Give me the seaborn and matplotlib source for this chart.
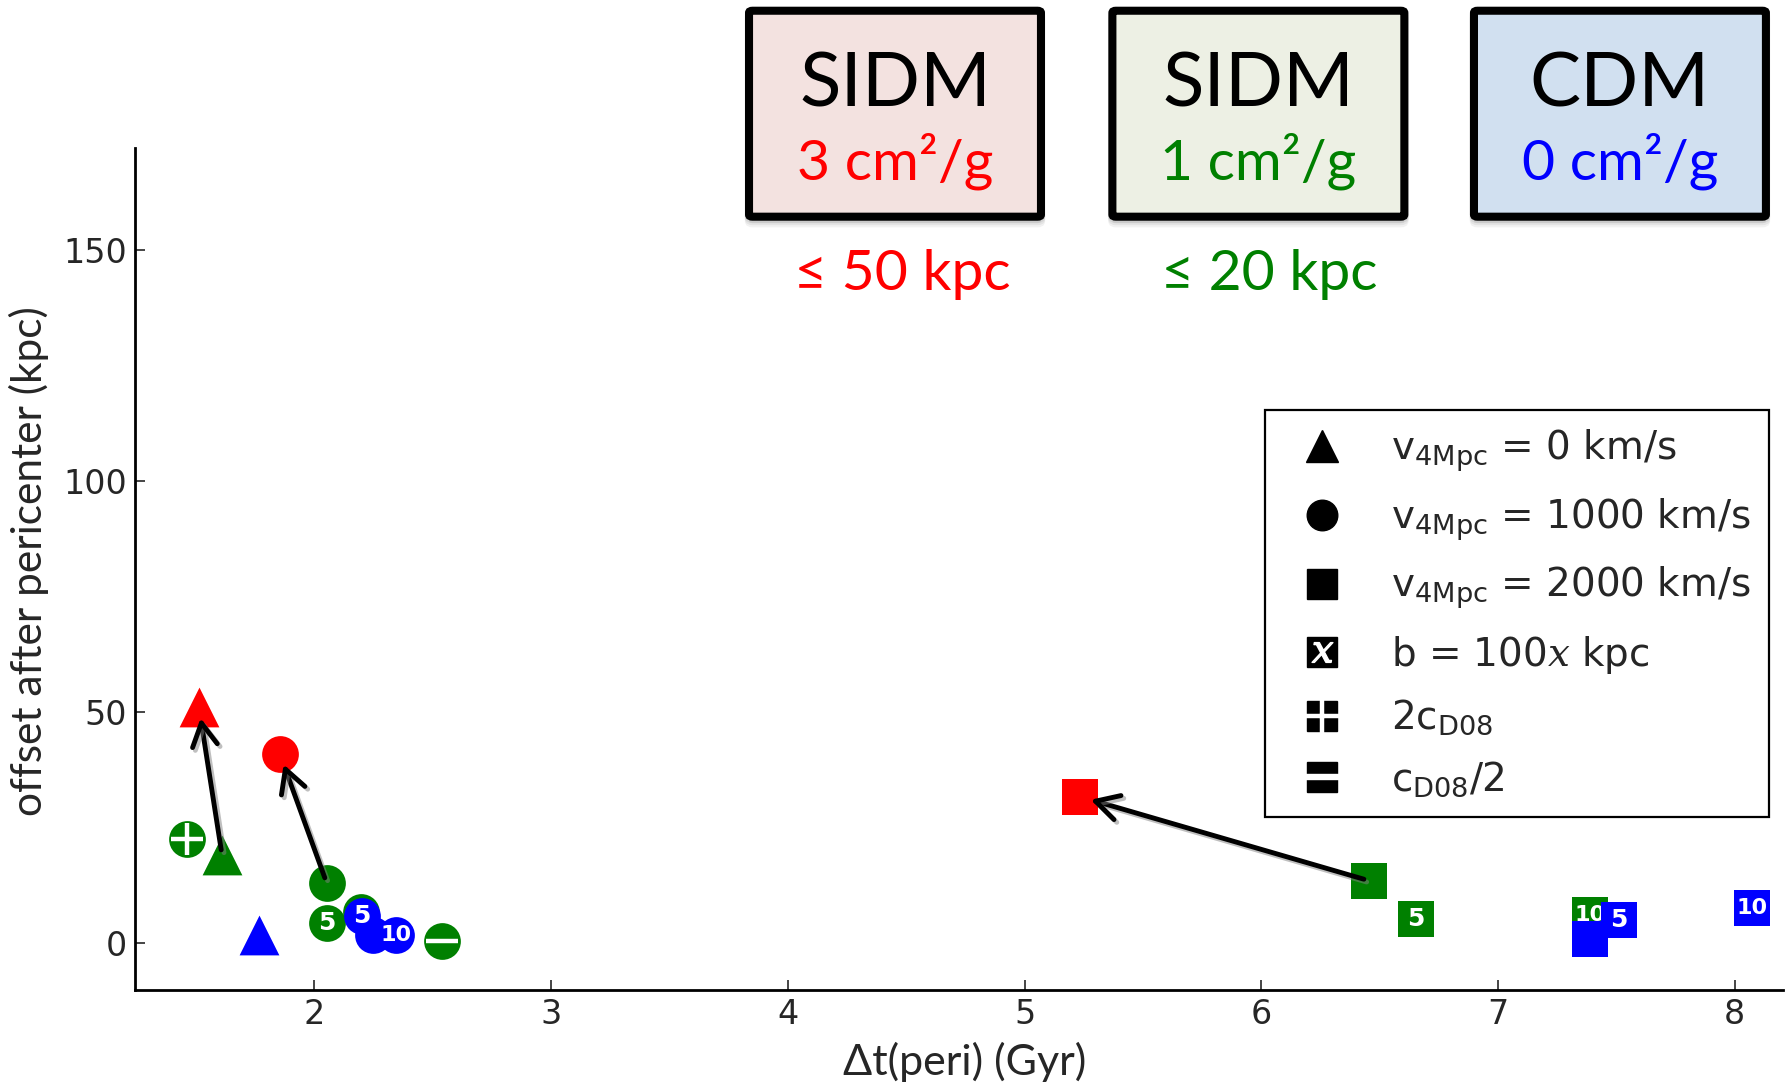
import matplotlib
matplotlib.use("Agg")
import matplotlib.pyplot as plt
import seaborn as sns
import pandas as pd
from matplotlib.lines import Line2D
from matplotlib.patches import FancyBboxPatch
import matplotlib.patheffects as pe

# ---- data -------------------------------------------------------------
dt_peri = [1.61, 1.463, 2.052, 2.052, 2.198, 2.54, 6.456, 6.654, 7.389,
           1.766, 2.248, 2.199, 2.343, 7.389, 7.512, 8.073,
           1.512, 1.854, 5.234]
offset = [19.0, 22.5, 13.0, 4.3, 6.8, 0.55, 13.5, 5.2, 6.1,
          1.7, 1.8, 5.95, 1.85, 0.9, 4.9, 7.6,
          51.1, 40.95, 31.7]
sigma = [1, 1, 1, 1, 1, 1, 1, 1, 1,
         0, 0, 0, 0, 0, 0, 0,
         3, 3, 3]
v_4mpc = [0, 1000, 1000, 1000, 1000, 1000, 2000, 2000, 2000,
          0, 1000, 1000, 1000, 2000, 2000, 2000,
          0, 1000, 2000]
variant = ["", "+", "", "5", "", "-", "", "5", "10",
           "", "", "5", "10", "", "5", "10",
           "", "", ""]
# arrows: (from index, to index) -- 1 cm^2/g run to the matching 3 cm^2/g run
arrow_pairs = [(0, 16), (2, 17), (6, 18)]

y_ticks = [0, 50, 100, 150]
x_ticks = [2, 3, 4, 5, 6, 7, 8]

df = pd.DataFrame({"t_peri": dt_peri, "offset": offset, "sigma": sigma,
                   "v": v_4mpc, "variant": variant})

colors = {3: "#FF0000", 1: "#008000", 0: "#0000FF"}
markers = {0: "^", 1000: "o", 2000: "s"}
sizes = {0: 820, 1000: 700, 2000: 700}

# ---- style ------------------------------------------------------------
sns.set_style("ticks")
plt.rcParams["font.family"] = ["DejaVu Sans"]
plt.rcParams["mathtext.fontset"] = "custom"
plt.rcParams["mathtext.rm"] = "DejaVu Sans"
plt.rcParams["mathtext.it"] = "DejaVu Serif:italic"
plt.rcParams["mathtext.bf"] = "DejaVu Sans:bold"

fig = plt.figure(figsize=(17.9, 10.84), dpi=100)
ax = fig.add_axes([0.0754, 0.0869, 0.9207, 0.7762])

for i, row in df.iterrows():
    z = 3 + 2 * i
    sns.scatterplot(x=[row["t_peri"]], y=[row["offset"]], ax=ax,
                    marker=markers[row["v"]], color=colors[row["sigma"]],
                    s=sizes[row["v"]], linewidth=0, legend=False, zorder=z)
    tag = row["variant"]
    if tag in ("+", "-"):
        ax.scatter([row["t_peri"]], [row["offset"]],
                   marker="+" if tag == "+" else "_",
                   color="white", s=560, linewidths=3.2, zorder=z + 1)
    elif tag:
        ax.text(row["t_peri"], row["offset"], tag, ha="center", va="center",
                color="white", fontsize=18 if tag == "5" else 16,
                fontweight="bold", zorder=z + 1)

for a, b in arrow_pairs:
    ax.annotate("", xy=(dt_peri[b], offset[b]), xytext=(dt_peri[a], offset[a]),
                arrowprops=dict(arrowstyle="->,head_length=0.55,head_width=0.3",
                                mutation_scale=30, lw=3.5, color="black",
                                shrinkA=4, shrinkB=8,
                                path_effects=[pe.SimpleLineShadow(offset=(2, -2),
                                                                  shadow_color="gray",
                                                                  alpha=0.5),
                                              pe.Normal()]),
                zorder=100)

ax.set_xlim(1.242, 8.204)
ax.set_ylim(-10.1, 172.0)
ax.set_xticks(x_ticks)
ax.set_yticks(y_ticks)
ax.tick_params(direction="in", length=7, width=1.2, labelsize=24, pad=6,
               top=False, right=False)
for side in ("top", "right"):
    ax.spines[side].set_visible(False)
for side in ("left", "bottom"):
    ax.spines[side].set_linewidth(2)
    ax.spines[side].set_color("black")

label_font = ["Lato", "DejaVu Sans"]
ax.set_xlabel("Δt(peri) (Gyr)", fontsize=31, family=label_font)
ax.set_ylabel("offset after pericenter (kpc)", fontsize=30.5, family=label_font)
ax.xaxis.set_label_coords(0.5035, -0.062)
ax.yaxis.set_label_coords(-0.052, 0.51)

# ---- legend -----------------------------------------------------------
ms = 22
sq = Line2D([], [], marker="s", color="black", ls="", markersize=ms)
handles = [
    Line2D([], [], marker="^", color="black", ls="", markersize=ms + 1),
    Line2D([], [], marker="o", color="black", ls="", markersize=ms),
    Line2D([], [], marker="s", color="black", ls="", markersize=ms),
    (sq, Line2D([], [], marker=r"$x$", color="white", ls="", markersize=15)),
    (sq, Line2D([], [], marker="+", color="white", ls="", markersize=ms + 2,
                markeredgewidth=3.2)),
    (sq, Line2D([], [], marker="_", color="white", ls="", markersize=ms + 2,
                markeredgewidth=4.6)),
]
labels = [
    r"v$_{\rm 4Mpc}$ = 0 km/s",
    r"v$_{\rm 4Mpc}$ = 1000 km/s",
    r"v$_{\rm 4Mpc}$ = 2000 km/s",
    r"b = 100$x$ kpc",
    r"2c$_{\rm D08}$",
    r"c$_{\rm D08}$/2",
]
leg = ax.legend(handles, labels, loc="upper left", bbox_to_anchor=(0.6856, 0.6891),
                borderaxespad=0, fontsize=28, frameon=True, fancybox=False,
                framealpha=1, edgecolor="black", handlelength=2.05,
                handletextpad=0.75, labelspacing=0.575, borderpad=0.45)
leg.get_frame().set_linewidth(1.6)
leg.set_zorder(200)

# ---- model boxes above the axes --------------------------------------
box_font = ["Lato", "DejaVu Sans"]
boxes = [
    (0.500, "#F3E2E0", "SIDM", "3 cm²/g", "#FF0000"),
    (0.703, "#EDF0E4", "SIDM", "1 cm²/g", "#008000"),
    (0.905, "#D1E0F0", "CDM", "0 cm²/g", "#0000FF"),
]
bw, bh, by0 = 0.1631, 0.190, 0.8001
for cx, fill, title, sub, col in boxes:
    for dy, a in [(0.006, 0.10), (0.004, 0.12), (0.002, 0.15)]:
        fig.add_artist(FancyBboxPatch((cx - bw / 2, by0 - dy), bw, bh,
                                      boxstyle="round,pad=0,rounding_size=0.002",
                                      transform=fig.transFigure, facecolor="gray",
                                      edgecolor="gray", lw=6, alpha=a, zorder=1))
    fig.add_artist(FancyBboxPatch((cx - bw / 2, by0), bw, bh,
                                  boxstyle="round,pad=0,rounding_size=0.002",
                                  transform=fig.transFigure, facecolor=fill,
                                  edgecolor="black", lw=5.8, zorder=2))
    fig.text(cx, 0.9016, title, ha="center", va="baseline", fontsize=55,
             family=box_font, color="black", zorder=3)
    fig.text(cx, 0.834, sub, ha="center", va="baseline", fontsize=41,
             family=box_font, color=col, zorder=3)

fig.text(0.5043, 0.7325, "≤ 50 kpc", ha="center", va="baseline", fontsize=41,
         family=box_font, color="#FF0000")
fig.text(0.709, 0.7325, "≤ 20 kpc", ha="center", va="baseline", fontsize=41,
         family=box_font, color="#008000")

fig.savefig("out.png", dpi=100, facecolor="white")
